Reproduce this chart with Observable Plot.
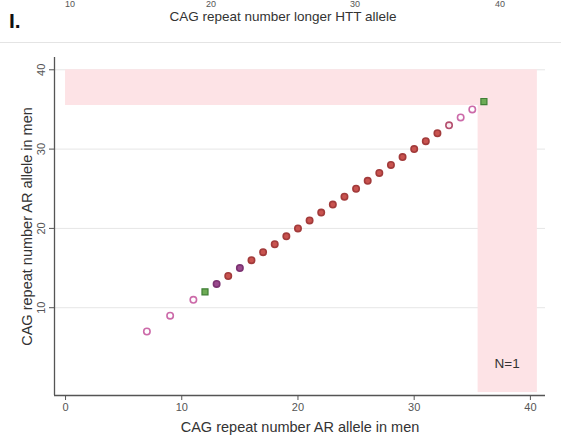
<!DOCTYPE html>
<html>
<head>
<meta charset="utf-8">
<script src="https://cdn.jsdelivr.net/npm/d3@7"></script>
<script src="https://cdn.jsdelivr.net/npm/@observablehq/plot@0.6"></script>
<style>
  html, body { margin: 0; padding: 0; background: #fff; }
  body { width: 561px; height: 439px; overflow: hidden; font-family: "Liberation Sans", Arial, sans-serif; }
  #topstrip { position: relative; height: 42px; }
  #topstrip .tk { position: absolute; top: 0px; font-size: 9px; line-height: 9px; color: #555; transform: translateX(-50%); }
  #topstrip .ttl { position: absolute; top: 9px; left: 283px; transform: translateX(-50%); font-size: 13.5px; color: #333; white-space: nowrap; }
  #topstrip .lab { position: absolute; top: 9px; left: 9px; font-size: 21px; font-weight: bold; color: #111; }
  #chart { border-top: 1px solid #e4e4e4; height: 396px; }
</style>
</head>
<body>
<div id="topstrip"></div>
<div id="chart"></div>
<script>
// Data
const arRepeat = [7, 9, 11, 12, 13, 14, 15, 16, 17, 18, 19, 20, 21, 22, 23, 24, 25, 26, 27, 28, 29, 30, 31, 32, 33, 34, 35, 36];
const arRepeatY = [7, 9, 11, 12, 13, 14, 15, 16, 17, 18, 19, 20, 21, 22, 23, 24, 25, 26, 27, 28, 29, 30, 31, 32, 33, 34, 35, 36];
const group = ["open", "open", "open", "green", "purple", "red", "purple",
  "red", "red", "red", "red", "red", "red", "red", "red", "red", "red", "red", "red", "red", "red", "red", "red", "red",
  "openDark", "open", "open", "green"];
const bandX1 = [0, 35.5];
const bandX2 = [40.6, 40.6];
const bandY1 = [35.5, -0.7];
const bandY2 = [40, 35.5];
const noteText = ["N=1"];
const noteX = [38];
const noteY = [2.9];
const xTicks = [0, 10, 20, 30, 40];
const yTicks = [10, 20, 30, 40];
const topTicks = ["10", "20", "30", "40"];
const topTickPos = [70, 211, 355, 500];
const topTitle = "CAG repeat number longer HTT allele";
const panelLabel = "I.";
const xLabel = "CAG repeat number AR allele in men";
const yLabel = "CAG repeat number AR allele in men";

const xDomain = [-0.95, 41.3];
const yDomain = [-1.07, 41.55];

// Top strip (part of the previous panel)
const strip = document.getElementById("topstrip");
topTicks.forEach((t, i) => {
  const s = document.createElement("span");
  s.className = "tk"; s.textContent = t; s.style.left = topTickPos[i] + "px";
  strip.appendChild(s);
});
const tt = document.createElement("span"); tt.className = "ttl"; tt.textContent = topTitle; strip.appendChild(tt);
const pl = document.createElement("span"); pl.className = "lab"; pl.textContent = panelLabel; strip.appendChild(pl);

const pts = arRepeat.map((x, i) => ({x, y: arRepeatY[i], g: group[i]}));
const bands = bandX1.map((x1, i) => ({x1, x2: bandX2[i], y1: bandY1[i], y2: bandY2[i]}));
const notes = noteText.map((t, i) => ({t, x: noteX[i], y: noteY[i]}));

const fillOf = {open: "#ffffff", openDark: "#fbeef2", red: "#c9534f", purple: "#9a4a8e", green: "#6dab55"};
const strokeOf = {open: "#cc6aa9", openDark: "#b4506f", red: "#a23b3b", purple: "#7c3372", green: "#3f7f35"};

const circles = pts.filter(d => d.g !== "green");
const squares = pts.filter(d => d.g === "green");

const plot = Plot.plot({
  width: 561,
  height: 396,
  marginLeft: 54,
  marginRight: 16,
  marginTop: 14,
  marginBottom: 44,
  style: {fontFamily: "Liberation Sans, Arial, sans-serif", background: "#fff", overflow: "visible"},
  x: {domain: xDomain},
  y: {domain: yDomain},
  marks: [
    Plot.gridY(yTicks, {stroke: "#e6e6e6", strokeOpacity: 1, strokeWidth: 1}),
    Plot.rect(bands, {x1: "x1", x2: "x2", y1: "y1", y2: "y2", fill: "#fde3e6"}),
    Plot.ruleY([yDomain[0]], {stroke: "#555", strokeWidth: 1.3}),
    Plot.ruleX([xDomain[0]], {stroke: "#555", strokeWidth: 1.3}),
    Plot.axisX(xTicks, {tickSize: 5, tickPadding: 3, fontSize: 11, color: "#555", stroke: "#555",
      label: xLabel, labelAnchor: "center", labelOffset: 36, labelArrow: "none"}),
    Plot.axisY(yTicks, {tickSize: 5, tickPadding: 5, fontSize: 11, color: "#555", stroke: "#555", tickRotate: -90,
      label: null}),
    Plot.text([yLabel], {frameAnchor: "left", textAnchor: "middle", rotate: -90, dx: -27, fontSize: 14.5, fill: "#333"}),
    Plot.text(notes, {x: "x", y: "y", text: "t", fontSize: 13.5, fill: "#333"}),
    Plot.dot(circles, {x: "x", y: "y", r: 3.2, fill: d => fillOf[d.g], stroke: d => strokeOf[d.g], strokeWidth: 1.6}),
    Plot.dot(squares, {x: "x", y: "y", r: 3.4, symbol: "square", fill: d => fillOf[d.g], stroke: d => strokeOf[d.g], strokeWidth: 1.2})
  ]
});
document.getElementById("chart").appendChild(plot);
plot.querySelectorAll("[aria-label='x-axis label'] text").forEach(t => { t.setAttribute("font-size", "14.5"); t.setAttribute("fill", "#333"); });
</script>
</body>
</html>
